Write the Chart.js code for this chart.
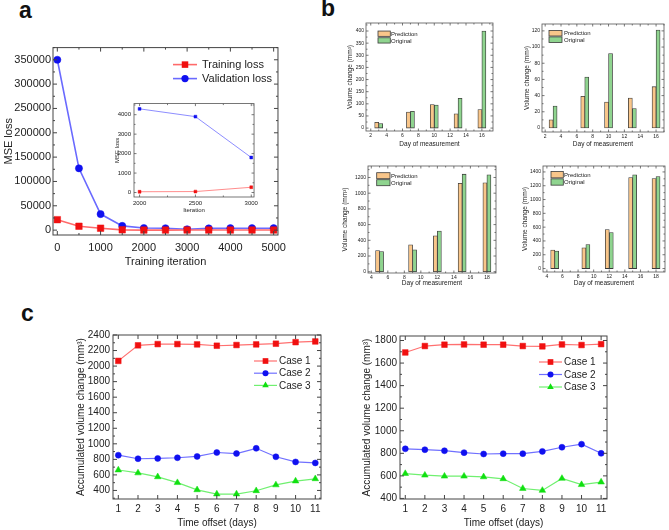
<!DOCTYPE html>
<html>
<head>
<meta charset="utf-8">
<script src="https://cdn.jsdelivr.net/npm/chart.js@4.4.0/dist/chart.umd.min.js"></script>
<style>
  body { margin: 0; width: 669px; height: 530px; background: #fff; position: relative; overflow: hidden; font-family: 'Liberation Sans', Arial, sans-serif; }
  canvas { position: absolute; }
  .tag { position: absolute; font-weight: bold; font-size: 23px; line-height: 1; color: #111; }
</style>
</head>
<body>
<div class="tag" style="left:19px;top:-1px">a</div>
<div class="tag" style="left:321px;top:-3px">b</div>
<div class="tag" style="left:21px;top:302px">c</div>
<script>
// ---- panel a: loss curves ----
const iterations = [0, 500, 1000, 1500, 2000, 2500, 3000, 3500, 4000, 4500, 5000];
const trainingLoss = [21500, 8000, 4000, 600, 40, 50, 270, 200, 200, 200, 200];
const validationLoss = [350000, 127000, 33000, 8700, 4300, 3900, 1800, 3600, 4000, 4000, 4000];
const aXTicks = [0, 1000, 2000, 3000, 4000, 5000];
const aYTicks = [0, 50000, 100000, 150000, 200000, 250000, 300000, 350000];
const insetXTicks = [2000, 2500, 3000];
const insetYTicks = [0, 1000, 2000, 3000, 4000];

// ---- panel b: prediction vs original ----
const daysTop = [3, 7, 10, 13, 16];
const predTopLeft = [24, 66, 97, 59, 76];
const origTopLeft = [19, 69, 95, 123, 400];
const predTopRight = [10, 39, 32, 37, 51];
const origTopRight = [27, 63, 92, 24, 121];
const daysBottom = [5, 9, 12, 15, 18];
const predBottomLeft = [270, 342, 458, 1125, 1133];
const origBottomLeft = [258, 279, 517, 1242, 1233];
const predBottomRight = [268, 301, 564, 1319, 1304];
const origBottomRight = [253, 349, 521, 1357, 1333];
const bXTicksTop = [2, 4, 6, 8, 10, 12, 14, 16];
const bXTicksBottom = [4, 6, 8, 10, 12, 14, 16, 18];
const bYTicksTL = [0, 50, 100, 150, 200, 250, 300, 350, 400];
const bYTicksTR = [0, 20, 40, 60, 80, 100, 120];
const bYTicksBL = [0, 200, 400, 600, 800, 1000, 1200];
const bYTicksBR = [0, 200, 400, 600, 800, 1000, 1200, 1400];

// ---- panel c: accumulated volume change ----
const timeOffset = [1, 2, 3, 4, 5, 6, 7, 8, 9, 10, 11];
const case1Left = [2067, 2267, 2283, 2283, 2279, 2262, 2271, 2279, 2288, 2308, 2317];
const case2Left = [854, 808, 812, 821, 838, 888, 875, 942, 833, 767, 754];
const case3Left = [663, 625, 575, 500, 408, 354, 354, 396, 471, 521, 550];
const case1Right = [1694, 1751, 1763, 1765, 1763, 1763, 1751, 1748, 1765, 1760, 1768];
const case2Right = [840, 832, 823, 806, 794, 797, 797, 817, 854, 881, 800];
const case3Right = [620, 606, 597, 597, 591, 574, 488, 471, 577, 522, 545];
const cXTicks = [1, 2, 3, 4, 5, 6, 7, 8, 9, 10, 11];
const cYTicksLeft = [400, 600, 800, 1000, 1200, 1400, 1600, 1800, 2000, 2200, 2400];
const cYTicksRight = [400, 600, 800, 1000, 1200, 1400, 1600, 1800];

const FONT = "'Liberation Sans', Arial, sans-serif";
const INK = '#222';

// box around the plot with inward ticks on all four sides, origin style
const framePlugin = {
  id: 'frame',
  afterDatasetsDraw(chart, args, o) {
    const { ctx, chartArea: a } = chart;
    ctx.save();
    ctx.strokeStyle = o.color || '#333';
    ctx.lineWidth = o.width || 1;
    ctx.strokeRect(a.left, a.top, a.right - a.left, a.bottom - a.top);
    ctx.beginPath();
    const marks = (scale, horiz, minor) => {
      const vals = scale.ticks.map(t => t.value);
      const step = vals[1] - vals[0];
      const list = vals.map(v => [v, o.major]);
      if (minor) {
        for (let v = vals[0] - step / 2; v <= vals[vals.length - 1] + step; v += step) list.push([v, o.minor]);
      }
      list.forEach(([v, len]) => {
        if (v < scale.min || v > scale.max) return;
        const p = scale.getPixelForValue(v);
        if (horiz) {
          ctx.moveTo(p, a.bottom); ctx.lineTo(p, a.bottom - len);
          ctx.moveTo(p, a.top); ctx.lineTo(p, a.top + len);
        } else {
          ctx.moveTo(a.left, p); ctx.lineTo(a.left + len, p);
          ctx.moveTo(a.right, p); ctx.lineTo(a.right - len, p);
        }
      });
    };
    marks(chart.scales.x, true, o.minorX);
    marks(chart.scales.y, false, o.minorY);
    ctx.stroke();
    ctx.restore();
  }
};

function drawMarker(ctx, style, r, x, y) {
  ctx.beginPath();
  if (style === 'rect') {
    const s = r * Math.SQRT1_2;
    ctx.rect(x - s, y - s, 2 * s, 2 * s);
  } else if (style === 'triangle') {
    ctx.moveTo(x, y - r);
    ctx.lineTo(x + r * 0.866, y + r / 2);
    ctx.lineTo(x - r * 0.866, y + r / 2);
    ctx.closePath();
  } else {
    ctx.arc(x, y, r, 0, Math.PI * 2);
  }
  ctx.fill();
}

// legend drawn inside the plot area
const innerLegend = {
  id: 'innerLegend',
  afterDraw(chart, args, o) {
    if (!o || o.x === undefined) return;
    const { ctx, chartArea: a } = chart;
    ctx.save();
    ctx.font = o.size + 'px ' + FONT;
    ctx.textBaseline = 'middle';
    ctx.fillStyle = INK;
    chart.data.datasets.forEach((ds, i) => {
      const y = a.top + o.y + i * o.row;
      const x = a.left + o.x;
      if (o.kind === 'box') {
        ctx.fillStyle = ds.backgroundColor;
        ctx.fillRect(x, y - o.h / 2, o.w, o.h);
        ctx.strokeStyle = ds.borderColor;
        ctx.lineWidth = 0.8;
        ctx.strokeRect(x, y - o.h / 2, o.w, o.h);
      } else {
        ctx.strokeStyle = ds.borderColor;
        ctx.lineWidth = ds.borderWidth;
        ctx.beginPath(); ctx.moveTo(x, y); ctx.lineTo(x + o.len, y); ctx.stroke();
        ctx.fillStyle = ds.pointBackgroundColor;
        drawMarker(ctx, ds.pointStyle, ds.pointRadius, x + o.len / 2, y);
      }
      ctx.fillStyle = INK;
      ctx.fillText(ds.label, a.left + o.tx, y + 0.5);
    });
    ctx.restore();
  }
};

function axis(min, max, tickList, tickSize, pad, title, titleSize) {
  return {
    type: 'linear', min, max, offset: false,
    afterBuildTicks: s => { s.ticks = tickList.map(v => ({ value: v })); },
    grid: { display: false, drawTicks: false, offset: false },
    border: { display: false },
    ticks: { font: { family: FONT, size: tickSize }, color: INK, padding: pad, autoSkip: false, maxRotation: 0, callback: v => String(v) },
    title: { display: true, text: title, font: { family: FONT, size: titleSize }, color: INK, padding: 0 }
  };
}

function points(xs, ys) { return xs.map((x, i) => ({ x, y: ys[i] })); }

function lineSet(label, xs, ys, color, lineColor, style, radius, width) {
  return {
    label, data: points(xs, ys),
    borderColor: lineColor, borderWidth: width, backgroundColor: color,
    pointBackgroundColor: color, pointBorderColor: color, pointBorderWidth: 0.5,
    pointStyle: style, pointRadius: radius, tension: 0
  };
}

function barSet(label, xs, ys, color) {
  return { label, data: points(xs, ys), backgroundColor: color, borderColor: '#3a3a3a', borderWidth: 0.8, borderSkipped: false, barThickness: 4 };
}

// place a chart so that its plot area lands on the rectangle L,T,R,B of the page
function makeChart(box, type, datasets, scales, frame, legend) {
  const c = document.createElement('canvas');
  const w = box.R - box.L + box.ml + box.mr;
  const h = box.B - box.T + box.mt + box.mb;
  c.width = w; c.height = h;
  c.style.left = (box.L - box.ml) + 'px';
  c.style.top = (box.T - box.mt) + 'px';
  c.style.width = w + 'px'; c.style.height = h + 'px';
  document.body.appendChild(c);
  scales.x.afterFit = s => { s.height = box.mb; };
  scales.y.afterFit = s => { s.width = box.ml; };
  return new Chart(c, {
    type,
    data: { datasets },
    options: {
      responsive: false, animation: false, events: [],
      layout: { autoPadding: false, padding: { left: 0, top: box.mt, right: box.mr, bottom: 0 } },
      scales,
      plugins: { legend: { display: false }, tooltip: { enabled: false }, frame, innerLegend: legend || {} }
    },
    plugins: [framePlugin, innerLegend]
  });
}

Chart.defaults.font.family = FONT;

// panel a, main plot
makeChart({ L: 53, T: 45, R: 286, B: 235, ml: 51, mt: 6, mr: 6, mb: 34 }, 'line', [
  lineSet('Training loss', iterations, trainingLoss, '#f01010', '#ff6a6a', 'rect', 4.6, 1.6),
  lineSet('Validation loss', iterations, validationLoss, '#1010f0', '#6a6aff', 'circle', 3.6, 1.6)
], {
  x: axis(-100, 5100, aXTicks, 11, 6, 'Training iteration', 11),
  y: axis(-10000, 375000, aYTicks, 11, 2, 'MSE loss', 11)
}, { major: 4, minor: 2, minorX: true, minorY: true, color: '#444' },
{ kind: 'line', x: 120, len: 24, tx: 149, y: 17, row: 14, size: 11 });

// panel a, inset
makeChart({ L: 134, T: 100, R: 258, B: 197, ml: 20, mt: 3, mr: 3, mb: 17 }, 'line', [
  lineSet('Training loss', iterations.slice(4, 7), trainingLoss.slice(4, 7), '#f01010', '#ff7070', 'rect', 2, 0.8),
  lineSet('Validation loss', iterations.slice(4, 7), validationLoss.slice(4, 7), '#1010f0', '#7070ff', 'rect', 2, 0.8)
], {
  x: axis(1950, 3025, insetXTicks, 6, 3, 'Iteration', 6),
  y: axis(-230, 4570, insetYTicks, 6, 3, 'MSE loss', 6)
}, { major: 2.5, minor: 1.5, minorX: true, minorY: true, color: '#555', width: 0.8 });

// panel b, four bar charts
const PRED = '#f9c68a', ORIG = '#8fd48f';
const bTitleX = 'Day of measurement', bTitleY = 'Volume change (mm³)';

makeChart({ L: 366, T: 21, R: 493, B: 131, ml: 20, mt: 3, mr: 3, mb: 17 }, 'bar', [
  barSet('Prediction', daysTop, predTopLeft, PRED),
  barSet('Original', daysTop, origTopLeft, ORIG)
], {
  x: axis(1.4, 17.4, bXTicksTop, 5, 2, bTitleX, 6.5),
  y: axis(-12, 433, bYTicksTL, 5, 2, bTitleY, 6.5)
}, { major: 2.5, minor: 1.5, minorX: true, minorY: true, color: '#555', width: 0.8 },
{ kind: 'box', x: 12, y: 10.7, row: 6.7, w: 12.3, h: 5.3, tx: 25, size: 6 });

makeChart({ L: 542, T: 22, R: 664, B: 132, ml: 19, mt: 3, mr: 3, mb: 16 }, 'bar', [
  barSet('Prediction', daysTop, predTopRight, PRED),
  barSet('Original', daysTop, origTopRight, ORIG)
], {
  x: axis(1.6, 17.0, bXTicksTop, 5, 2, bTitleX, 6.5),
  y: axis(-5, 128.5, bYTicksTR, 5, 2, bTitleY, 6.5)
}, { major: 2.5, minor: 1.5, minorX: true, minorY: true, color: '#555', width: 0.8 },
{ kind: 'box', x: 7, y: 9.2, row: 6.5, w: 13, h: 5.6, tx: 22, size: 6 });

makeChart({ L: 368, T: 164, R: 496, B: 273, ml: 27, mt: 3, mr: 3, mb: 14 }, 'bar', [
  barSet('Prediction', daysBottom, predBottomLeft, PRED),
  barSet('Original', daysBottom, origBottomLeft, ORIG)
], {
  x: axis(3.6, 19.1, bXTicksBottom, 5, 2, bTitleX, 6.5),
  y: axis(-16, 1346, bYTicksBL, 5, 2, bTitleY, 6.5)
}, { major: 2.5, minor: 1.5, minorX: true, minorY: true, color: '#555', width: 0.8 },
{ kind: 'box', x: 8.7, y: 9.7, row: 7, w: 13.3, h: 6, tx: 23, size: 6 });

makeChart({ L: 543, T: 164, R: 665, B: 272, ml: 22, mt: 3, mr: 3, mb: 15 }, 'bar', [
  barSet('Prediction', daysBottom, predBottomRight, PRED),
  barSet('Original', daysBottom, origBottomRight, ORIG)
], {
  x: axis(3.5, 19.15, bXTicksBottom, 5, 2, bTitleX, 6.5),
  y: axis(-50, 1486, bYTicksBR, 5, 2, bTitleY, 6.5)
}, { major: 2.5, minor: 1.5, minorX: true, minorY: true, color: '#555', width: 0.8 },
{ kind: 'box', x: 8, y: 8.7, row: 7.3, w: 12.3, h: 6.3, tx: 21, size: 6 });

// panel c, two line charts
const cTitleX = 'Time offset (days)', cTitleY = 'Accumulated volume change (mm³)';

makeChart({ L: 113, T: 330, R: 321, B: 499, ml: 38, mt: 4, mr: 4, mb: 30 }, 'line', [
  lineSet('Case 1', timeOffset, case1Left, '#f01010', '#ff7070', 'rect', 4, 1.2),
  lineSet('Case 2', timeOffset, case2Left, '#1010f0', '#7070ff', 'circle', 3, 1.2),
  lineSet('Case 3', timeOffset, case3Left, '#10e010', '#70f070', 'triangle', 3.8, 1.2)
], {
  x: axis(0.73, 11.29, cXTicks, 10, 4, cTitleX, 10),
  y: axis(290, 2400, cYTicksLeft, 10, 3, cTitleY, 10)
}, { major: 4, minor: 2, minorX: false, minorY: true, color: '#444' },
{ kind: 'line', x: 141, len: 23, tx: 166, y: 26, row: 12.2, size: 10 });

makeChart({ L: 400, T: 331, R: 607, B: 499, ml: 39, mt: 4, mr: 4, mb: 30 }, 'line', [
  lineSet('Case 1', timeOffset, case1Right, '#f01010', '#ff7070', 'rect', 4, 1.2),
  lineSet('Case 2', timeOffset, case2Right, '#1010f0', '#7070ff', 'circle', 3, 1.2),
  lineSet('Case 3', timeOffset, case3Right, '#10e010', '#70f070', 'triangle', 3.8, 1.2)
], {
  x: axis(0.73, 11.3, cXTicks, 10, 4, cTitleX, 10),
  y: axis(395, 1840, cYTicksRight, 10, 3, cTitleY, 10)
}, { major: 4, minor: 2, minorX: false, minorY: true, color: '#444' },
{ kind: 'line', x: 139, len: 23, tx: 164, y: 26, row: 12.5, size: 10 });
</script>
</body>
</html>
